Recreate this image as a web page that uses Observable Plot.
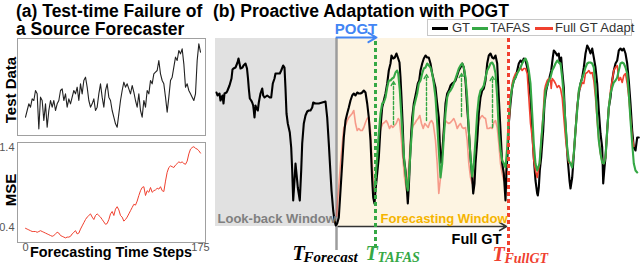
<!DOCTYPE html>
<html><head><meta charset="utf-8">
<script src="https://cdn.jsdelivr.net/npm/d3@7"></script>
<script src="https://cdn.jsdelivr.net/npm/@observablehq/plot@0.6"></script>
<style>
html,body{margin:0;padding:0;background:#fff;}
#chart{position:relative;width:640px;height:264px;overflow:hidden;font-family:"Liberation Sans",Arial,sans-serif;background:#fff;}
#chart > *{position:absolute;}
.t{white-space:nowrap;}
</style></head><body><div id="chart"></div>
<script>
// ---------- Panel (a) data ----------
const testData = [0.5,0.7,0.9,0.8,1.05,1.0,1.3,1.2,0.15,1.1,
1.0,0.4,0.9,0.2,0.7,1.0,0.8,1.0,0.7,0.9,
1.0,1.3,1.35,1.0,1.2,0.8,1.05,0.9,1.1,1.3,
1.2,1.4,1.0,1.5,1.2,1.6,1.7,1.4,1.0,0.8,
0.9,1.05,0.7,0.8,1.2,1.5,1.1,0.8,1.3,1.5,
1.1,1.0,0.7,0.5,0.3,0.2,0.6,1.0,1.3,1.55,
1.4,1.5,1.35,1.2,1.45,1.25,1.0,0.8,1.2,0.7,
0.5,1.0,0.8,1.3,1.2,1.6,1.5,1.8,1.85,1.9,
2.2,1.8,1.6,1.5,1.1,0.65,1.1,1.6,1.7,2.0,
2.3,2.2,2.5,2.4,2.55,2.1,1.4,1.5,1.3,1.2,
1.1,1.0,1.2,2.2,2.7,2.45];
const mseValues = [0.39,0.38,0.37,0.36,0.35,0.35,0.35,0.34,0.35,0.36,
0.35,0.34,0.33,0.32,0.31,0.30,0.29,0.30,0.32,0.34,
0.33,0.30,0.29,0.28,0.27,0.28,0.28,0.29,0.32,0.34,
0.36,0.32,0.33,0.38,0.42,0.46,0.50,0.53,0.55,0.57,
0.53,0.50,0.55,0.57,0.55,0.53,0.50,0.47,0.44,0.45,
0.50,0.57,0.60,0.55,0.63,0.66,0.62,0.55,0.53,0.48,
0.50,0.53,0.57,0.61,0.65,0.69,0.68,0.73,0.80,0.86,
0.90,0.91,0.80,0.86,0.84,0.90,0.84,0.86,0.87,0.89,
0.88,0.91,0.86,0.85,0.98,1.09,1.15,1.17,1.16,1.15,
1.18,1.20,1.22,1.21,1.22,1.20,1.19,1.23,1.32,1.38,
1.40,1.41,1.39,1.38,1.36,1.33];
const mseSteps = 175;            // forecasting time steps covered
const mseTicks = [0.4, 1.4];
const stepTicks = [0, 175];

// ---------- Panel (b) data: [time step relative to T_Forecast, value] ----------
const lookBackStart = -121, forecastStart = 0, tafasStep = 39, fullGtStep = 172;
const gtSeries = [
[-120,134],[-119,131],[-117,133],[-116,126],[-114,131],[-113,123],[-112,133],[-110,134],[-109,136],[-107,141],[-105,148],[-104,157],[-103,158],[-101,159],[-99,164],[-98,168],[-96,158],[-94,159],[-93,161],[-91,163],[-89.5,158],[-88.5,148],[-87.7,138],[-86.7,128],[-85.3,126],[-84.3,124],[-83.3,121],[-82.7,116],[-82,109],[-81,121],[-80,118],[-78.7,116],[-77.7,124],[-76,133],[-74.3,138],[-73.3,131],[-72,129],[-69.3,131],[-66.7,129],[-65.3,129],[-63.7,143],[-62,148],[-61,153],[-59.3,153],[-56.7,153],[-55.3,156],[-53.3,161],[-52,159],[-51,138],[-50,113],[-48.7,103],[-46.7,94],[-45.3,79],[-44.3,56],[-43.3,26],[-42,46],[-41,63],[-40,53],[-38.7,39],[-36.7,26],[-35.3,56],[-34.3,83],[-32.7,103],[-31,111],[-29.3,115],[-27.7,116],[-26,116],[-24.3,119],[-23.3,124],[-21,123],[-17.7,123],[-14.3,124],[-11,125],[-9.3,109],[-7.7,83],[-6,53],[-5,36],[-3.3,16],[-2,6],[-0.7,1],
[0.7,3],[2.3,9],[4,36],[5.7,63],[7.3,89],[9,106],[10.7,113],[12.3,119],[14,126],[15.7,131],[17.3,133],[19,131],[20.7,134],[22.3,133],[24,133],[25.7,134],[27.3,136],[29,134],[30.7,123],[32.3,109],[34,86],[35.7,46],[36.7,29],[38,23],[39,36],[40.7,53],[42.3,69],[44,99],[45.7,119],[47.3,126],[49,133],[50.7,143],[52.3,156],[54,163],[55,171],[56.7,168],[58.3,169],[60,173],[61.7,168],[63,164],[64,149],[65,129],[66.3,99],[67.3,69],[69,56],[70,43],[71.3,23],[72.3,39],[73.3,63],[74.7,93],[75.7,109],[77.3,123],[79,131],[80,136],[81.3,143],[82.7,146],[84,156],[85.7,163],[87.3,168],[89,171],[90.7,169],[92.3,169],[94,163],[95.7,153],[97.3,146],[99,139],[100.7,123],[102.3,109],
[104,66],[105,63],[107.3,96],[109,123],[110.7,133],[112.3,136],[114,141],[115.7,143],[117.3,144],[119,146],[120.7,151],[122.3,156],[124,159],[125.7,163],[127.3,159],[129,146],[130.7,119],[132.3,96],[134,69],[135.7,49],[136.7,33],[138,43],[139,63],[140.7,86],[142.3,113],[144,129],[145.7,136],[147.3,138],[149,146],[150.7,163],[152.3,171],[154,173],[155.7,169],[157.3,168],[159,171],[160.7,163],[162.3,129],[164,96],[165.7,63],[167.3,53],[169,26],[170,56],[171.3,76],[172.3,103],[174,123],[175.7,139],[177.3,146],[179,149],[180.7,156],[182.3,163],[184,166],[185.7,164],[187.3,168],[189,166],[190.7,159],[192.3,146],[194,129],[195.7,96],[197.3,69],[199,46],[200.7,33],
[201.3,31],[202.3,39],[203.3,56],[204.7,69],[206.7,96],[208,123],[209.7,136],[211.3,143],[213,149],[214.7,156],[216.3,169],[217.3,176],[219,174],[220.7,171],[222.3,173],[223.3,163],[224.7,169],[225.7,156],[227.3,139],[228.3,113],[230,86],[231.3,66],[233,46],[234,38],[235.7,49],[236.7,63],[239,96],[240.7,119],[242.3,133],[244,143],[245.7,149],[247.3,159],[249,173],[250.7,181],[252.3,178],[254,173],[255.7,178],[257.3,169],[259,159],[260.7,143],[262.3,116],[264,93],[265.7,79],[266.7,43],[268,59],[269,69],[270.7,96],[272.3,119],[274,129],[275.7,146],[277.3,156],[279,163],[280.7,166],[282.3,176],[284,178],[285.7,176],[287.3,178],[289,173],[290.7,163],[292.3,146],[294,123],[295.7,96],[297.3,79],[299,76],[300.7,89],[302.3,89]];
const tafasSeries = [
[38.3,40],[40.7,69],[42.3,93],[44,113],[45.7,123],[47.3,124],[49,129],[50.7,139],[52.3,146],[54,146],[55.7,148],[57.3,149],[59,154],[60.7,156],[61.7,153],[63.3,136],[64.7,113],[66.3,86],[68,63],[70,43],[71.3,36],[72.7,53],[74,76],[75.7,99],[77.3,119],[79,126],[80.7,133],[82.3,143],[84,146],[85.7,153],[87.3,158],[89,159],[90.7,163],[92.3,161],[94,159],[95.7,153],[97.3,143],[99,129],[100.7,103],[102.3,76],[104,49],
[105.7,63],[107.3,89],[109,113],[110.7,129],[112.3,134],[114,136],[115.7,139],[117.3,143],[119,148],[120.7,153],[122.3,158],[124,161],[125.7,163],[127.3,159],[129,149],[130.7,129],[132.3,96],[134,69],[135.7,50],[137.3,63],[139,86],[140.7,113],[142.3,129],[144,136],[145.7,138],[147.3,141],[149,149],[150.7,156],[152.3,159],[154,163],[155.7,164],[157.3,161],[159,153],[160.7,129],[162.3,96],[164,76],[165.7,66],[167.3,63],[169,59],[170.7,79],[172.3,109],[174,129],[175.7,139],[177.3,146],[179,149],[180.7,153],[182.3,156],[184,159],[185.7,163],[187.3,166],[189,168],[190.7,164],[192.3,156],[194,143],[195.7,113],[197.3,83],[199,63],[200.7,56],
[203,63],[204.7,86],[206.7,109],[209,136],[210.7,141],[212.3,146],[214,149],[215.7,156],[217.3,159],[219,163],[220.7,166],[222.3,164],[224,163],[225.7,149],[227.3,129],[229,103],[230.7,79],[232.3,66],[234,63],[235.7,59],[237.3,73],[239,96],[240.7,116],[242.3,136],[244,143],[245.7,148],[247.3,153],[249,159],[250.7,163],[252.3,164],[254,164],[255.7,163],[257.3,159],[259,139],[260.7,109],[262.3,86],[264,73],[265.7,64],[267.3,63],[269,69],[270.7,96],[272.3,119],[274,133],[275.7,139],[277.3,144],[279,146],[280.7,149],[282.3,156],[284,163],[285.7,164],[287.3,163],[289,159],[290.7,153],[292.3,133],[294,106],[295.7,83],[297.3,63],[299,56],[300.7,54]];
const adaptSeries = [
[0,10],[4,63],[7.3,99],[9,101],[10.7,106],[12.3,109],[14,111],[15.7,113],[17.3,116],[19,103],[20.7,96],[22.3,98],[24,96],[25.7,96],[27.3,99],[29,104],[30.7,108],[32.3,109],[34,96],[35.7,63],[37.3,39],[38.3,29],[40,53],[41.3,76],[43,93],[44.7,99],[46.3,103],[48,104],[49.7,106],[51.3,103],[53,98],[54.7,101],[56.3,99],[58,101],[59.7,103],[61.7,108],[63,106],[64.7,89],[66.3,69],[68,49],[70,36],[71.7,53],[73.3,76],[75,96],[76.7,101],[78.3,103],[80,106],[81.7,108],[83.3,111],[85,103],[86.7,98],[88.3,103],[90,101],[91.7,99],[93.3,104],[95,106],[96.7,103],[99,86],[100.7,63],[102.3,33],[104,49],[105.7,76],[107.3,99],[109,106],[110.7,104],[112.3,103],[114,104],[115.7,106],[117.3,108],[119,104],[120.7,98],[122.3,101],[124,103],[125.7,99],[127.3,98],[129,99],[130.7,86],[132.3,63],[134,49],[135.7,43],[137.3,49],[139,69],[140.7,89],[142.3,106],[144,109],[145.7,111],[147.3,109],[149,108],[150.7,98],[152.3,98],[154,99],[155.7,98],[157.3,104],[159,106],[160.7,99],[162.3,83],[164,63],[165.7,53],[167.3,46],[169,53],[170.7,69],[172.3,99],[174,129],[175.7,143],[177.3,149],[179,153],[180.7,154],[182.3,156],[184,159],[185.7,156],[187.3,158],[189,158],[190.7,153],[192.3,129],[194,103],[195.7,89],[197.3,66],[199,56],[200.7,49],[203,63],[204.7,86],[206.7,113],[208,136],[209,141],[210.7,146],[212.3,148],[214,146],[214.7,138],[215.7,148],[217.3,146],[219,143],[220.7,139],[222.3,141],[224,138],[225.7,129],[227.3,109],[229,89],[230.7,73],[232.3,64],[234,63],[235.7,63],[237.3,73],[239,96],[240.7,119],[242.3,136],[244,139],[245.7,144],[247.3,143],[249,153],[250.7,154],[252.3,156],[254,153],[255.7,154],[257.3,146],[259,129],[260.7,106],[262.3,86],[264,73],[265.7,64],[267.3,63],[269,69],[270.7,96],[272.3,119],[274,136],[275.7,146],[277.3,156],[279,159],[280.7,161],[282.3,146],[284,149],[285.7,144],[287.3,151],[289,153],[290.7,143],[292.3,129],[294,109],[295.7,89],[297.3,80]];
// POGT gains (dashed green arrows): step, from value, to value
const gainSteps = [57, 90, 125, 156];
const gainFrom  = [102, 106, 110, 99];
const gainTo    = [145, 152, 153, 150];

const seriesNames  = ["GT", "TAFAS", "Full GT Adapt"];
const seriesColors = ["#000000", "#35a845", "#f0402f"];

const SANS = "Liberation Sans, Arial, sans-serif";
const SERIF = "Liberation Serif, Times New Roman, serif";
const chart = document.getElementById("chart");

function place(el, left, top) { el.style.position = "absolute"; el.style.left = left + "px"; el.style.top = top + "px"; chart.appendChild(el); }
function htmlText(txt, x, baseline, size, opts = {}) {
  const L = Math.round(size * 0.8);
  const d = document.createElement("div");
  d.className = "t"; d.textContent = txt;
  d.style.fontSize = size + "px"; d.style.lineHeight = L + "px";
  d.style.fontWeight = opts.weight || "bold"; d.style.color = opts.color || "#000";
  d.style.fontFamily = SANS;
  place(d, x, baseline - L / 2 - 0.3465 * size);
  if (opts.anchor === "middle") d.style.transform = "translateX(-50%)";
  return d;
}
function rotText(txt, cx, cy, size) {
  const d = document.createElement("div");
  d.className = "t"; d.textContent = txt;
  d.style.fontSize = size + "px"; d.style.lineHeight = size + "px"; d.style.fontWeight = "bold";
  d.style.fontFamily = SANS;
  place(d, cx, cy);
  d.style.transform = "translate(-50%,-50%) rotate(-90deg)";
}

// ---------- Panel (b) ----------
const [gtColor, tafasColor, adaptColor] = seriesColors;
const splitIdx = adaptSeries.findIndex(d => d[0] >= fullGtStep);
const adaptBefore = adaptSeries.slice(0, splitIdx + 1);
const adaptAfter = adaptSeries.slice(splitIdx);
const windows = [
  {start: lookBackStart, end: forecastStart, fill: "#e1e1e1"},
  {start: forecastStart, end: fullGtStep, fill: "#fdf4e2"}
];
const gains = gainSteps.map((s, i) => ({s, a: gainFrom[i], b: gainTo[i]}));
const tLabel = {textAnchor: "start", lineAnchor: "bottom", fontWeight: "bold", fontStyle: "italic", fontFamily: SERIF};

const plotB = Plot.plot({
  width: 640, height: 264,
  marginLeft: 215, marginRight: 0, marginTop: 38, marginBottom: 38,
  x: {domain: [-121, 304], axis: null},
  y: {domain: [0, 188], axis: null},
  style: {background: "transparent", overflow: "visible", fontFamily: SANS},
  marks: [
    Plot.rect(windows, {x1: "start", x2: "end", y1: () => 0, y2: () => 188, fill: "fill"}),
    Plot.arrow([{}], {x1: () => forecastStart, x2: () => fullGtStep - 2, y1: () => 0, y2: () => 0, stroke: "#333", strokeWidth: 1.5, headLength: 8}),
    Plot.ruleX([forecastStart], {y1: -24, y2: 188, stroke: "#9c9c9c", strokeWidth: 2.5}),
    Plot.line(adaptBefore, {x: d => d[0], y: d => d[1], stroke: adaptColor, strokeOpacity: 0.5, strokeWidth: 1.6}),
    Plot.line(gtSeries, {x: d => d[0], y: d => d[1], stroke: gtColor, strokeWidth: 2.1}),
    Plot.line(adaptAfter, {x: d => d[0], y: d => d[1], stroke: adaptColor, strokeWidth: 1.6}),
    Plot.line(tafasSeries, {x: d => d[0], y: d => d[1], stroke: tafasColor, strokeWidth: 2.1}),
    Plot.arrow(gains, {x1: "s", x2: "s", y1: "a", y2: "b", stroke: tafasColor, strokeWidth: 1.4, strokeDasharray: "3,2", headLength: 5}),
    Plot.ruleX([tafasStep], {y1: -22, y2: 188, stroke: tafasColor, strokeWidth: 3, strokeDasharray: "4,3"}),
    Plot.ruleX([fullGtStep], {y1: -26, y2: 188, stroke: adaptColor, strokeWidth: 3, strokeDasharray: "4,3"}),
    Plot.arrow([{}], {x1: () => forecastStart, x2: () => tafasStep + 1, y1: () => 189, y2: () => 189, stroke: "#4285f4", strokeWidth: 2, headLength: 7}),
    Plot.text(["POGT"], {x: 19.5, y: 193, textAnchor: "middle", lineAnchor: "bottom", fontSize: 15, fontWeight: "bold", fill: "#4285f4"}),
    Plot.text(["Look-back Window"], {x: -119, y: 4, textAnchor: "start", lineAnchor: "bottom", fontSize: 13, fontWeight: "bold", fill: "#7f7f7f"}),
    Plot.text(["Forecasting Window"], {x: 44, y: 4, textAnchor: "start", lineAnchor: "bottom", fontSize: 13, fontWeight: "bold", fill: "#f5b400"}),
    Plot.text(["Full GT"], {x: 165, y: -17, textAnchor: "end", lineAnchor: "bottom", fontSize: 14.5, fontWeight: "bold", fill: "#000"}),
    // T labels
    Plot.text(["T"], {x: -44, y: -33, fontSize: 20, fill: "#000", ...tLabel}),
    Plot.text(["Forecast"], {x: -33, y: -35, fontSize: 15, fill: "#000", ...tLabel}),
    Plot.text(["T"], {x: 29, y: -33, fontSize: 20, fill: tafasColor, ...tLabel}),
    Plot.text(["TAFAS"], {x: 41, y: -35, fontSize: 14, fill: tafasColor, ...tLabel}),
    Plot.text(["T"], {x: 156, y: -34, fontSize: 20, fill: adaptColor, ...tLabel}),
    Plot.text(["FullGT"], {x: 168, y: -36, fontSize: 14, fill: adaptColor, ...tLabel})
  ]
});
place(plotB, 0, 0);

// ---------- Panel (a) ----------
const plotTop = Plot.plot({
  width: 188, height: 97, margin: 0,
  x: {domain: [-4.8, 108], axis: null},
  y: {domain: [-0.05, 2.86], axis: null},
  style: {background: "transparent", overflow: "visible"},
  marks: [
    Plot.frame({stroke: "#a0a0a0"}),
    Plot.lineY(testData, {stroke: "#222", strokeWidth: 1.1})
  ]
});
place(plotTop, 17, 38);

const plotBottom = Plot.plot({
  width: 210, height: 122, marginLeft: 17, marginRight: 5, marginTop: 0, marginBottom: 22,
  x: {domain: [-8, 180], ticks: stepTicks, tickSize: 0, tickPadding: 1, label: null},
  y: {domain: [0.2125, 1.4625], ticks: mseTicks, tickSize: 0, tickPadding: 3, label: null},
  style: {background: "transparent", overflow: "visible", fontSize: "11px", color: "#555", fontFamily: SANS},
  marks: [
    Plot.frame({stroke: "#a0a0a0"}),
    Plot.line(mseValues, {x: (d, i) => i * mseSteps / (mseValues.length - 1), y: d => d, stroke: adaptColor, strokeWidth: 1})
  ]
});
place(plotBottom, 0, 142);

// ---------- Titles and labels ----------
htmlText("(a) Test-time Failure of", 16, 17.5, 17.5);
htmlText("a Source Forecaster", 16, 35, 17.5);
htmlText("(b) Proactive Adaptation with POGT", 213, 17, 17.5);
rotText("Test Data", 9.5, 90, 15);
rotText("MSE", 9.5, 190, 15);
htmlText("Forecasting Time Steps", 111, 257, 14.4, {anchor: "middle"});

// ---------- Legend ----------
const legend = document.createElement("div");
legend.style.cssText = "width:205px;height:17px;border:1px solid #c8c8c8;background:#fff;box-sizing:border-box;font-family:" + SANS + ";font-size:13px;color:#333;";
place(legend, 427, 19);
const swatchLeft = [4, 44, 107], textLeft = [24, 62, 127], swatchW = [16, 16, 18];
seriesNames.forEach((name, i) => {
  const sw = document.createElement("div");
  sw.style.cssText = `position:absolute;left:${swatchLeft[i]}px;top:6.5px;width:${swatchW[i]}px;height:3px;background:${seriesColors[i]};`;
  legend.appendChild(sw);
  const tx = document.createElement("div");
  tx.textContent = name;
  tx.style.cssText = `position:absolute;left:${textLeft[i]}px;top:0px;line-height:15px;white-space:nowrap;`;
  legend.appendChild(tx);
});
</script></body></html>
